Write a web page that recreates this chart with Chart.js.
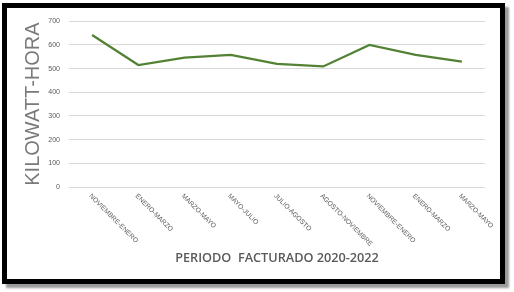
<!DOCTYPE html>
<html>
<head>
<meta charset="utf-8">
<script src="https://cdn.jsdelivr.net/npm/chart.js@4.4.0/dist/chart.umd.min.js"></script>
<style>
  html, body { margin: 0; padding: 0; background: #fff; }
  body { width: 514px; height: 292px; position: relative; overflow: hidden; }
  #marco {
    position: absolute; left: 2px; top: 3px;
    width: 503px; height: 281px; box-sizing: border-box;
    border: 5px solid #000; background: #fff;
    box-shadow: 4px 4px 2px #9a9a9a;
  }
  #lienzo { position: absolute; left: 0; top: 0; }
</style>
</head>
<body>
<div id="marco"><canvas id="lienzo" width="493" height="271"></canvas></div>
<script>
// Datos del gráfico
const periodos = ['NOVIEMBRE-ENERO', 'ENERO-MARZO', 'MARZO-MAYO', 'MAYO-JULIO', 'JULIO-AGOSTO',
  'AGOSTO-NOVIEMBRE', 'NOVIEMBRE-ENERO', 'ENERO-MARZO', 'MARZO-MAYO'];
const consumoKwh = [642, 515, 546, 558, 520, 509, 600, 558, 529];
const ejeYMin = 0;
const ejeYMax = 700;
const ejeYPaso = 100;
const tituloX = 'PERIODO  FACTURADO 2020-2022';
const tituloY = 'KILOWATT-HORA';

const grisTexto = '#595959';

// Etiquetas del eje X giradas hacia abajo (como en Excel)
const etiquetasGiradas = {
  id: 'etiquetasGiradas',
  afterDraw(chart) {
    const ctx = chart.ctx;
    const escalaX = chart.scales.x;
    const base = chart.chartArea.bottom;
    ctx.save();
    ctx.font = '6.7px "Liberation Sans Narrow", "Liberation Sans", sans-serif';
    ctx.fillStyle = grisTexto;
    ctx.textAlign = 'left';
    ctx.textBaseline = 'middle';
    periodos.forEach((txt, i) => {
      const x = escalaX.getPixelForTick(i);
      ctx.save();
      ctx.translate(x - 2, base + 8);
      ctx.rotate(Math.PI / 4);
      ctx.fillText(txt, 0, 0);
      ctx.restore();
    });
    ctx.restore();
  }
};

new Chart(document.getElementById('lienzo'), {
  type: 'line',
  data: {
    labels: periodos,
    datasets: [{
      data: consumoKwh,
      borderColor: '#548235',
      borderWidth: 2.25,
      pointRadius: 0,
      tension: 0,
      fill: false
    }]
  },
  options: {
    responsive: false,
    animation: false,
    layout: { padding: { top: 9, right: 15, left: 14, bottom: 13 } },
    plugins: { legend: { display: false }, tooltip: { enabled: false } },
    scales: {
      x: {
        offset: true,
        grid: { display: false, drawTicks: false },
        border: { display: false },
        ticks: { display: false },
        title: {
          display: true, text: tituloX, color: grisTexto,
          font: { family: '"Open Sans", sans-serif', size: 12.7, weight: 600 },
          padding: 0
        },
        afterFit(s) { s.height = 79; }
      },
      y: {
        min: ejeYMin, max: ejeYMax,
        grid: { color: '#d9d9d9', lineWidth: 1, drawTicks: false },
        border: { display: false },
        ticks: {
          stepSize: ejeYPaso, padding: 9, color: grisTexto,
          font: { family: '"Liberation Sans Narrow", "Liberation Sans", sans-serif', size: 7 }
        },
        title: {
          display: true, text: tituloY, color: '#7a7a7a',
          font: { family: '"Liberation Sans Narrow", "Liberation Sans", sans-serif', size: 20 },
          padding: 0
        },
        afterFit(s) { s.width = 48; }
      }
    }
  },
  plugins: [etiquetasGiradas]
});
</script>
</body>
</html>
